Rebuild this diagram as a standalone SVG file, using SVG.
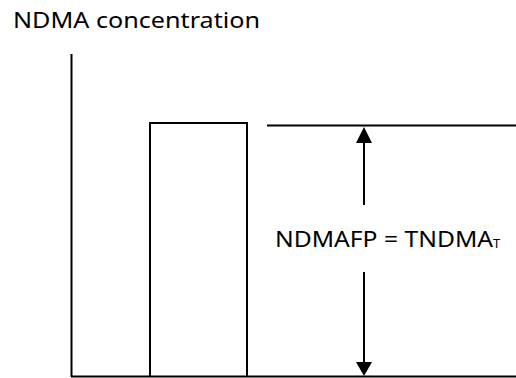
<svg xmlns="http://www.w3.org/2000/svg" width="516" height="378" viewBox="0 0 516 378">
<defs>
<style>
.ln{stroke:#000;stroke-width:2;fill:none}
.tx{font-family:"Noto Sans","Open Sans",sans-serif;font-size:21px;fill:#000}
.ah{fill:#000}
</style>
</defs>
<rect width="516" height="378" fill="#fff"/>
<g id="title"><text class="tx" x="13" y="28" textLength="247" lengthAdjust="spacingAndGlyphs">NDMA concentration</text></g>
<g id="axes">
<line class="ln" x1="71.5" y1="54" x2="71.5" y2="377"/>
<line class="ln" x1="71" y1="376.5" x2="516" y2="376.5"/>
</g>
<g id="pulse"><path class="ln" d="M150,376 V123 H247 V376"/></g>
<g id="level"><line class="ln" x1="267" y1="125.5" x2="516" y2="125.5"/></g>
<g id="connectors">
<line class="ln" x1="364" y1="143" x2="364" y2="205"/>
<line class="ln" x1="364" y1="272" x2="364" y2="362"/>
<path class="ah" d="M356,143 L364,127 L372,143 z"/>
<path class="ah" d="M356,362 L364,376 L372,362 z"/>
</g>
<g id="label">
<text class="tx" x="275" y="247" textLength="218" lengthAdjust="spacingAndGlyphs">NDMAFP = TNDMA</text>
<text class="tx" x="493" y="248" font-size="13" style="font-size:13px">T</text>
</g>
</svg>
